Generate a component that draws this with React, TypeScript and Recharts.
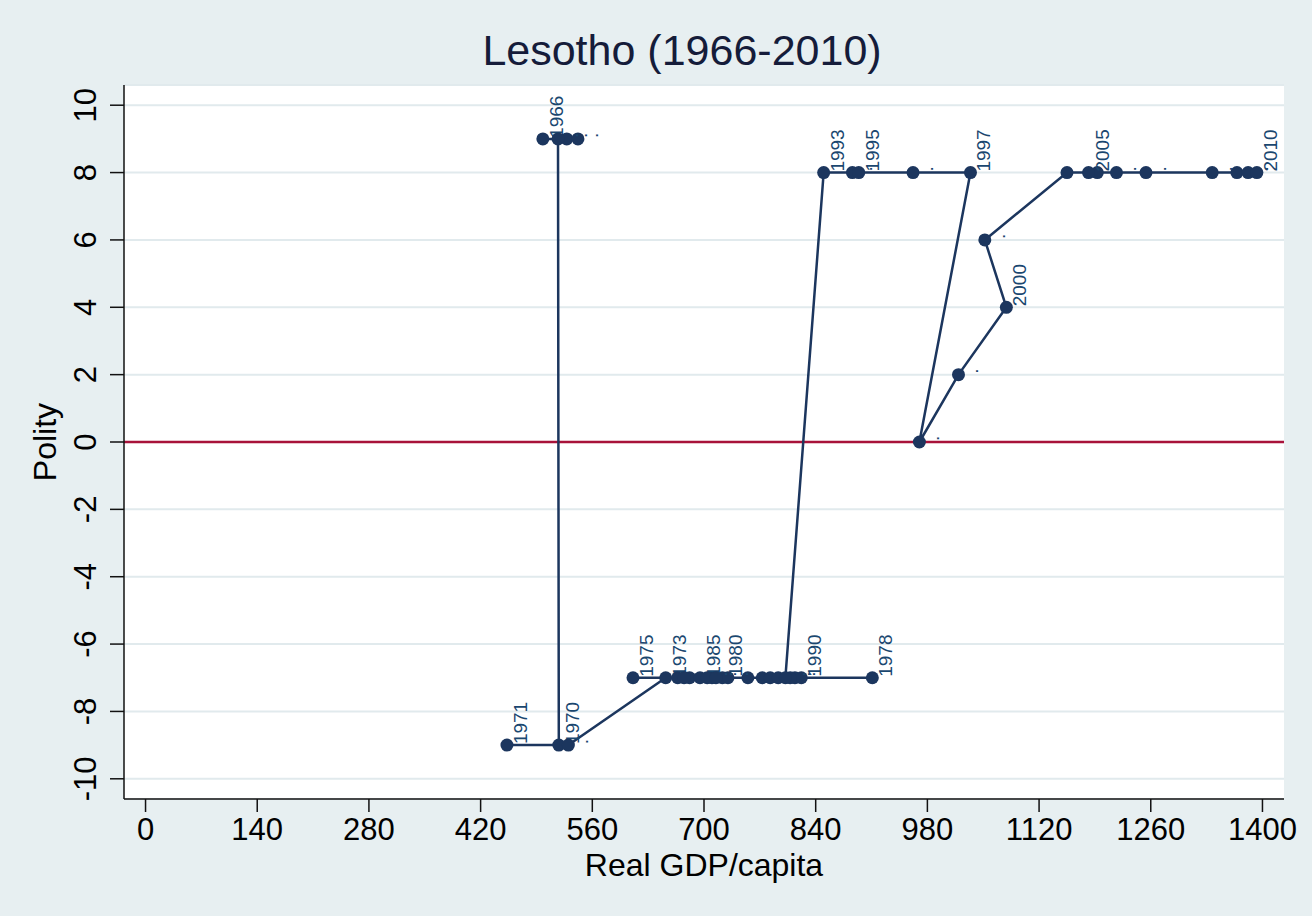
import React from 'react';
import { ScatterChart, Scatter, XAxis, YAxis, CartesianGrid, ReferenceLine } from 'recharts';

// Lesotho, real GDP per capita vs Polity score, one point per year
const years = [
  1966, 1967, 1968, 1969, 1970, 1971, 1972, 1973, 1974, 1975,
  1976, 1977, 1978, 1979, 1980, 1981, 1982, 1983, 1984, 1985,
  1986, 1987, 1988, 1989, 1990, 1991, 1992, 1993, 1994, 1995,
  1996, 1997, 1998, 1999, 2000, 2001, 2002, 2003, 2004, 2005,
  2006, 2007, 2008, 2009, 2010,
];

const gdp = [
  498, 528, 542, 517, 518, 453, 530, 652, 667, 611,
  682, 773, 911, 814, 723, 755, 730, 710, 675, 695,
  704, 715, 783, 793, 822, 808, 802, 850, 886, 894,
  962, 1034, 970, 1019, 1079, 1052, 1155, 1193, 1217, 1182,
  1254, 1337, 1368, 1382, 1393,
];

const polity = [
  9, 9, 9, 9, -9, -9, -9, -7, -7, -7,
  -7, -7, -7, -7, -7, -7, -7, -7, -7, -7,
  -7, -7, -7, -7, -7, -7, -7, 8, 8, 8,
  8, 8, 0, 2, 4, 6, 8, 8, 8, 8,
  8, 8, 8, 8, 8,
];

const labelledYears = [1966, 1970, 1971, 1973, 1975, 1978, 1980, 1985, 1990, 1993, 1995, 1997, 2000, 2005, 2010];

const xTicks = [0, 140, 280, 420, 560, 700, 840, 980, 1120, 1260, 1400];
const yTicks = [-10, -8, -6, -4, -2, 0, 2, 4, 6, 8, 10];

const data = years.map((year, i) => ({
  year,
  gdp: gdp[i],
  polity: polity[i],
  label: labelledYears.includes(year) ? String(year) : '.',
}));

const FONT = '"Liberation Sans", Arial, sans-serif';
const NAVY = '#1c365e';
const LABEL_NAVY = '#1a476f';

const PointWithLabel = (props: any) => {
  const { cx, cy, payload } = props;
  const lx = cx + 20;
  const ly = cy - 1;
  return (
    <g>
      <circle cx={cx} cy={cy} r={6.5} fill={NAVY} />
      <text
        x={lx}
        y={ly}
        transform={`rotate(-90 ${lx} ${ly})`}
        fontSize={19}
        fontFamily={FONT}
        fill={LABEL_NAVY}
        textAnchor="start"
      >
        {payload.label}
      </text>
    </g>
  );
};

const XTick = ({ x, y, payload }: any) => (
  <text x={x} y={y} dy={28} textAnchor="middle" fontSize={31} fontFamily={FONT} fill="#000">
    {payload.value}
  </text>
);

const YTick = ({ x, y, payload }: any) => (
  <text
    x={x - 14}
    y={y}
    transform={`rotate(-90 ${x - 14} ${y})`}
    textAnchor="middle"
    fontSize={31}
    fontFamily={FONT}
    fill="#000"
  >
    {payload.value}
  </text>
);

export default function App() {
  return (
    <div style={{ position: 'fixed', left: 0, top: 0, width: 1312, height: 916, background: '#e7eff1' }}>
      <div style={{ position: 'absolute', left: 124, top: 85, width: 1160, height: 714, background: '#fff' }} />
      <div style={{ position: 'absolute', left: 0, top: 0 }}>
        <ScatterChart width={1312} height={916} margin={{ top: 85, right: 28, bottom: 0, left: 0 }}>
          <CartesianGrid vertical={false} stroke="#e1eaed" strokeWidth={2} />
          <XAxis
            type="number"
            dataKey="gdp"
            domain={[-27, 1427]}
            ticks={xTicks}
            allowDataOverflow
            height={117}
            tickSize={13}
            tickMargin={0}
            axisLine={{ stroke: '#111', strokeWidth: 1.5 }}
            tickLine={{ stroke: '#111', strokeWidth: 1.5 }}
            tick={<XTick />}
          />
          <YAxis
            type="number"
            dataKey="polity"
            domain={[-10.6, 10.6]}
            ticks={yTicks}
            allowDataOverflow
            width={124}
            tickSize={14}
            tickMargin={0}
            axisLine={{ stroke: '#111', strokeWidth: 1.5 }}
            tickLine={{ stroke: '#111', strokeWidth: 1.5 }}
            tick={<YTick />}
          />
          <ReferenceLine y={0} stroke="#a8123a" strokeWidth={2.5} />
          <Scatter
            data={data}
            line={{ stroke: NAVY, strokeWidth: 2.5 }}
            lineType="joint"
            shape={<PointWithLabel />}
            isAnimationActive={false}
          />
        </ScatterChart>
      </div>
      <svg width={1312} height={916} style={{ position: 'absolute', left: 0, top: 0, pointerEvents: 'none' }}>
        <text x={682} y={65} textAnchor="middle" fontSize={43} fontFamily={FONT} fill="#151c3a">
          Lesotho (1966-2010)
        </text>
        <text x={704} y={876} textAnchor="middle" fontSize={32} fontFamily={FONT} fill="#000">
          Real GDP/capita
        </text>
        <text
          x={56}
          y={442}
          transform="rotate(-90 56 442)"
          textAnchor="middle"
          fontSize={32}
          fontFamily={FONT}
          fill="#000"
        >
          Polity
        </text>
      </svg>
    </div>
  );
}
